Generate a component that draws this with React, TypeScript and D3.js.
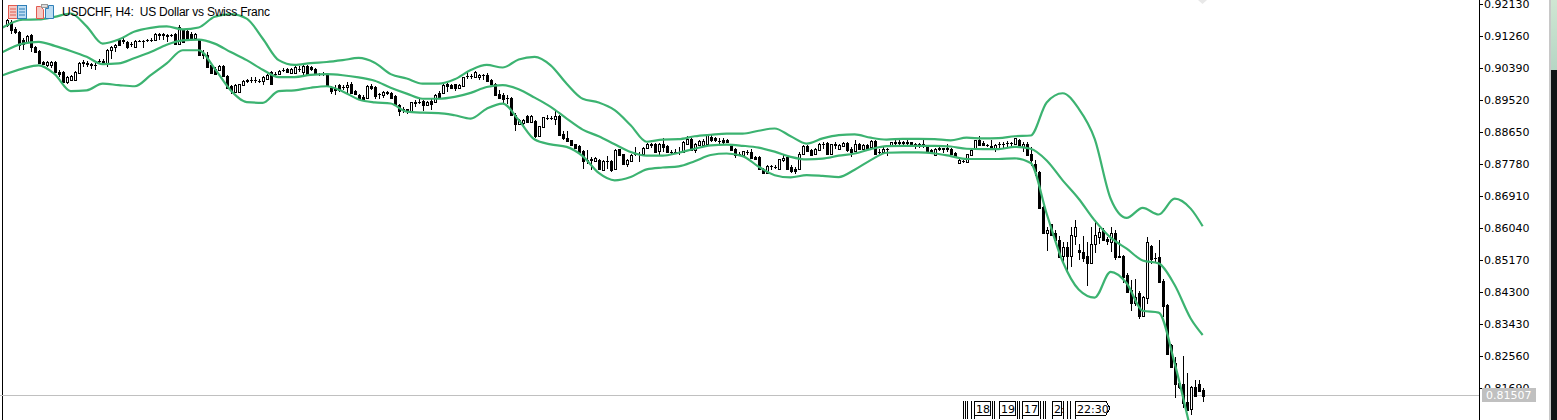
import React from 'react';
import * as d3 from 'd3';

// prices in 1/10000 of a franc, one entry per H4 candle
const opens = [
  9156,9165,9147,9138,9115,9111,9129,9097,9086,9056,
  9047,9047,9056,9029,9029,9002,9006,9006,9026,9056,
  9053,9050,9048,9058,9060,9052,9088,9097,9115,9113,
  9111,9106,9097,9112,9112,9115,9117,9115,9131,9131,
  9129,9129,9133,9106,9142,9141,9133,9120,9115,9081,
  9074,9047,9038,9033,9044,9017,8990,8975,8975,8993,
  9006,9007,9007,9005,9004,9011,9029,9023,9023,9035,
  9038,9026,9026,9038,9029,9045,9042,9038,9023,9024,
  9023,8986,8986,8993,8988,8988,8997,8977,8966,8961,
  8958,8990,8988,8970,8967,8974,8972,8963,8938,8927,
  8927,8922,8946,8948,8949,8938,8950,8947,8972,8972,
  8997,8994,8995,8986,8991,9019,9019,9015,9014,9020,
  9020,9006,8997,8970,8967,8959,8959,8913,8887,8890,
  8909,8893,8896,8854,8879,8904,8904,8900,8909,8859,
  8848,8843,8832,8828,8814,8789,8791,8787,8789,8763,
  8787,8787,8766,8818,8805,8778,8787,8807,8807,8807,
  8823,8832,8834,8813,8834,8827,8811,8811,8811,8811,
  8834,8846,8816,8831,8831,8832,8852,8850,8842,8845,
  8845,8828,8820,8805,8802,8812,8811,8798,8798,8766,
  8754,8774,8771,8766,8789,8798,8769,8766,8766,8805,
  8828,8816,8805,8816,8834,8836,8807,8832,8819,8828,
  8836,8820,8814,8834,8819,8830,8825,8841,8811,8811,
  8819,8828,8837,8837,8837,8837,8837,8834,8834,8834,
  8825,8816,8802,8821,8821,8821,8820,8809,8782,8787,
  8784,8802,8820,8843,8836,8830,8828,8820,8834,8834,
  8836,8836,8834,8845,8825,8834,8805,8779,8758,8661,
  8591,8616,8591,8572,8529,8553,8528,8582,8544,8540,
  8528,8508,8562,8581,8599,8574,8567,8592,8527,8528,
  8476,8436,8401,8428,8366,8413,8555,8524,8526,8460,
  8395,8286,8236,8182,8180,8132,8112,8171,8180,8163,
];
const closes = [
  9170,9142,9138,9102,9106,9126,9097,9083,9052,9050,
  9056,9056,9029,9023,9002,9015,9017,9029,9053,9052,
  9051,9049,9047,9059,9057,9090,9097,9102,9102,9115,
  9097,9105,9113,9113,9113,9115,9117,9133,9130,9130,
  9128,9129,9104,9150,9111,9117,9122,9133,9076,9074,
  9043,9026,9024,9044,9017,8986,8981,8993,8995,9004,
  9003,9006,9006,9004,9015,9020,8997,9022,9032,9035,
  9029,9038,9043,9038,9045,9020,9038,9024,9022,9023,
  8993,8977,8979,8981,8988,8994,8973,8970,8959,8955,
  8990,8984,8963,8970,8975,8973,8959,8938,8923,8926,
  8926,8946,8945,8947,8938,8947,8943,8967,8959,8993,
  8990,8986,8984,8993,9014,9018,9018,9028,9020,9020,
  9004,8995,8966,8959,8956,8958,8913,8887,8897,8899,
  8893,8909,8854,8881,8905,8903,8903,8908,8856,8850,
  8841,8829,8823,8811,8787,8788,8790,8796,8764,8786,
  8786,8763,8816,8802,8778,8789,8804,8807,8806,8823,
  8834,8831,8811,8834,8825,8811,8810,8810,8810,8839,
  8846,8816,8832,8841,8841,8857,8843,8843,8841,8837,
  8837,8816,8802,8804,8813,8811,8795,8791,8766,8754,
  8773,8773,8770,8791,8796,8766,8760,8760,8807,8828,
  8814,8804,8820,8834,8833,8807,8832,8831,8830,8836,
  8816,8811,8832,8818,8830,8820,8841,8807,8811,8820,
  8819,8837,8836,8836,8836,8836,8828,8828,8828,8828,
  8811,8810,8820,8820,8820,8820,8807,8798,8789,8787,
  8805,8816,8843,8831,8830,8829,8820,8830,8833,8833,
  8835,8835,8848,8827,8834,8802,8788,8759,8660,8591,
  8598,8584,8572,8525,8553,8528,8585,8608,8538,8524,
  8510,8562,8585,8594,8573,8569,8590,8526,8526,8470,
  8429,8401,8416,8366,8416,8565,8520,8523,8456,8392,
  8261,8227,8180,8172,8127,8109,8171,8147,8161,8148,
];
const highs = [
  9174,9170,9151,9140,9120,9129,9131,9099,9088,9058,
  9058,9058,9058,9033,9032,9018,9020,9031,9055,9061,
  9058,9054,9052,9063,9065,9092,9099,9106,9118,9120,
  9113,9111,9115,9115,9117,9119,9122,9135,9136,9136,
  9133,9131,9135,9156,9146,9144,9138,9136,9118,9088,
  9083,9049,9043,9047,9047,9020,8993,8997,8997,9006,
  9010,9014,9014,9009,9017,9022,9031,9029,9034,9041,
  9041,9040,9045,9044,9047,9048,9045,9040,9026,9030,
  9025,8990,8993,8995,8993,9002,9002,8981,8970,8965,
  8993,8995,8990,8973,8977,8978,8975,8965,8942,8934,
  8929,8948,8952,8956,8952,8950,8954,8969,8976,8995,
  8999,8997,8997,8995,9016,9029,9023,9031,9023,9023,
  9026,9009,9000,8979,8972,8966,8961,8916,8900,8902,
  8912,8912,8898,8883,8907,8911,8909,8925,8911,8868,
  8868,8845,8834,8830,8816,8816,8798,8798,8791,8788,
  8800,8789,8818,8820,8807,8793,8806,8825,8810,8825,
  8836,8836,8836,8836,8850,8829,8816,8818,8825,8841,
  8854,8848,8835,8843,8847,8861,8861,8852,8848,8848,
  8847,8830,8823,8811,8815,8816,8818,8800,8800,8768,
  8775,8777,8775,8793,8802,8800,8775,8771,8811,8830,
  8830,8818,8822,8836,8838,8838,8834,8839,8832,8838,
  8838,8824,8845,8836,8832,8832,8843,8843,8820,8824,
  8822,8839,8843,8843,8842,8843,8839,8836,8836,8843,
  8827,8818,8822,8825,8823,8834,8823,8811,8791,8790,
  8807,8818,8845,8854,8840,8834,8843,8832,8839,8838,
  8841,8839,8850,8847,8838,8838,8826,8788,8760,8664,
  8607,8616,8598,8583,8567,8567,8608,8626,8561,8582,
  8567,8608,8626,8603,8604,8581,8608,8599,8572,8530,
  8481,8463,8465,8433,8418,8581,8558,8535,8573,8465,
  8397,8288,8254,8184,8256,8211,8175,8192,8192,8168,
];
const lows = [
  9151,9133,9131,9090,9090,9108,9083,9082,9050,9048,
  9043,9041,9027,9014,8999,8997,9003,9006,9024,9043,
  9043,9038,9035,9052,9050,9043,9063,9083,9100,9106,
  9092,9097,9095,9110,9095,9110,9110,9113,9117,9115,
  9111,9124,9102,9104,9109,9113,9115,9115,9074,9065,
  9040,9024,9020,9031,9015,8984,8970,8973,8973,8990,
  8998,9000,9000,9000,8993,9008,8993,9015,9020,9029,
  9027,9024,9022,9029,9015,9018,9032,9022,9018,9018,
  8990,8970,8966,8975,8981,8968,8970,8966,8955,8952,
  8955,8980,8955,8955,8957,8966,8957,8936,8909,8916,
  8914,8920,8934,8941,8923,8936,8925,8945,8955,8970,
  8975,8984,8977,8984,8989,9011,9011,9013,9008,9006,
  9002,8993,8964,8957,8945,8943,8911,8868,8884,8885,
  8890,8890,8850,8852,8877,8897,8897,8884,8854,8843,
  8839,8827,8820,8809,8766,8778,8762,8785,8762,8761,
  8766,8757,8764,8799,8775,8770,8785,8800,8784,8805,
  8821,8823,8809,8799,8810,8809,8806,8806,8802,8809,
  8830,8814,8808,8829,8828,8830,8839,8837,8834,8834,
  8835,8814,8796,8800,8797,8802,8793,8788,8764,8752,
  8752,8762,8766,8764,8785,8764,8754,8752,8764,8803,
  8812,8802,8803,8814,8820,8805,8805,8820,8817,8826,
  8811,8798,8812,8816,8817,8818,8822,8805,8807,8809,
  8800,8826,8830,8830,8830,8825,8826,8818,8822,8822,
  8809,8805,8800,8814,8809,8811,8804,8796,8780,8781,
  8780,8800,8818,8829,8828,8825,8818,8811,8816,8818,
  8825,8826,8832,8825,8811,8800,8772,8745,8658,8589,
  8543,8582,8570,8523,8508,8485,8499,8558,8517,8513,
  8446,8508,8535,8562,8571,8558,8540,8517,8522,8454,
  8427,8379,8392,8357,8364,8397,8505,8513,8454,8363,
  8259,8225,8141,8165,8114,8107,8095,8145,8159,8132,
];

// Bollinger bands, read just left of the first candle, then at every 4th candle, then at the last one
const bandUpper = [
  9150,9171,9172,9179,9188,9153,9106,9117,9139,9149,9153,9145,9150,9179,9186,9174,9120,9061,9048,9053,9056,
  9061,9067,9054,9023,9011,8997,8997,9009,9034,9048,9041,9063,9070,9047,8997,8956,8946,8925,8884,8839,8845,8846,
  8854,8858,8861,8861,8869,8875,8854,8834,8848,8857,8859,8850,8845,8847,8847,8846,8843,8850,8848,8849,8854,
  8856,8946,8971,8929,8847,8684,8632,8659,8641,8684,8657,8609,
];
const bandMiddle = [
  9083,9106,9111,9100,9086,9070,9050,9052,9067,9083,9103,9115,9117,9106,9083,9061,9035,9015,9015,9021,9023,
  9020,9014,9005,8986,8970,8956,8956,8961,8972,8988,8993,8982,8959,8934,8902,8872,8854,8832,8811,8801,8801,8809,
  8820,8829,8831,8828,8823,8812,8798,8791,8793,8801,8807,8819,8827,8828,8828,8828,8826,8820,8819,8819,8825,
  8820,8788,8734,8684,8625,8578,8548,8516,8508,8449,8358,8313,
];
const bandLower = [
  9020,9038,9047,9023,8977,8979,8997,8993,8990,9020,9052,9088,9088,9038,8979,8947,8945,8977,8979,8986,8990,
  8976,8954,8946,8943,8921,8918,8917,8911,8902,8929,8943,8898,8845,8832,8825,8800,8754,8734,8743,8764,8769,8772,
  8786,8803,8807,8800,8771,8748,8742,8748,8746,8743,8763,8789,8809,8810,8810,8807,8800,8792,8792,8792,8794,
  8781,8643,8513,8437,8415,8485,8454,8379,8374,8236,8056,7928,
];

const priceTicks = [0.9213,0.9126,0.9039,0.8952,0.8865,0.8778,0.8691,0.8604,0.8517,0.843,0.8343,0.8256,0.8169];
const lastPrice = 0.81507;

// time tags stuck at the bottom of the chart, with the candle each one sits on
const tagLabels = ['','','','','18','','','19','','','17','','','','2:','','','','22:30'];
const tagCandles = [239,239.7,240.1,241,241.8,246.3,246.9,248.1,252.5,253.2,253.9,258.3,259,259.6,261.3,264.2,265,265.9,267.1];

const title = 'USDCHF, H4:  US Dollar vs Swiss Franc';
const WIDTH = 1557;
const HEIGHT = 420;
const AXIS_X = 1479;
const BAND_COLOR = '#3cb371';

const xScale = d3.scaleLinear().domain([0, 299]).range([6.67, 1202.67]);
const yScale = d3.scaleLinear().domain([0.9213, 0.8256]).range([4.3, 356]);
const py = (v: number) => yScale(v / 10000);

const bandIndex = [-1, ...d3.range(4, 299, 4), 299];
const bandLine = d3.line<number>()
  .x((_, i) => xScale(bandIndex[i]))
  .y(d => py(d))
  .curve(d3.curveMonotoneX);

function Candle({ i }: { i: number }) {
  const x = Math.round(xScale(i));
  const o = Math.round(py(opens[i]));
  const c = Math.round(py(closes[i]));
  const top = Math.min(o, c);
  const h = Math.max(o, c) - top;
  const up = closes[i] > opens[i];
  return (
    <g shapeRendering="crispEdges">
      <rect x={x} y={Math.round(py(highs[i]))} width={1} height={Math.max(1, Math.round(py(lows[i])) - Math.round(py(highs[i])))} fill="#000" />
      {h === 0 ? (
        <rect x={x - 1} y={top} width={3} height={1} fill="#000" />
      ) : up ? (
        <rect x={x - 0.5} y={top + 0.5} width={2} height={h} fill="#fff" stroke="#000" />
      ) : (
        <rect x={x - 1} y={top} width={3} height={h + 1} fill="#000" />
      )}
    </g>
  );
}

function Icons() {
  return (
    <g>
      <rect x={8.5} y={5.5} width={9} height={13} fill="#f6c9c4" stroke="#e25b50" />
      <rect x={17.5} y={5.5} width={9} height={13} fill="#bcdcf2" stroke="#2f7fb8" />
      <path d="M10 9h6M10 12h6M10 15h6" stroke="#e25b50" />
      <path d="M19 9h6M19 12h6M19 15h6" stroke="#2f7fb8" />
      <path d="M36.5 6.5h4l3 3v9h-7z" fill="#f6c9c4" stroke="#e25b50" />
      <path d="M45.5 8.5h3v-3h5v13h-8z" fill="#bcdcf2" stroke="#2f7fb8" />
      <rect x={41.5} y={4.5} width={6} height={3} fill="#ddd" stroke="#999" />
    </g>
  );
}

export default function App() {
  const axisFont = '"DejaVu Sans", sans-serif';
  return (
    <svg width={WIDTH} height={HEIGHT} style={{ position: 'fixed', left: 0, top: 0, background: '#fff' }}>
      <defs>
        <clipPath id="plot"><rect x={3} y={0} width={AXIS_X - 3} height={HEIGHT} /></clipPath>
        <linearGradient id="sky" x1="0" y1="0" x2="0" y2="1">
          <stop offset="0" stopColor="#cfe6d2" />
          <stop offset="1" stopColor="#b5d6c4" />
        </linearGradient>
      </defs>

      {/* sliver of the desktop behind the terminal window */}
      <rect x={1549} y={0} width={2} height={HEIGHT} fill="#c8c8c8" />
      <rect x={1551} y={0} width={6} height={70} fill="url(#sky)" />
      <rect x={1551} y={70} width={6} height={350} fill="#101416" />

      <rect x={2} y={0} width={1} height={HEIGHT} fill="#000" />
      <rect x={AXIS_X} y={0} width={1} height={HEIGHT} fill="#000" />

      {priceTicks.map(t => (
        <g key={t}>
          <rect x={AXIS_X + 1} y={Math.round(yScale(t))} width={3} height={1} fill="#000" />
          <text x={1484} y={yScale(t) + 4} fontFamily={axisFont} fontSize={11} fill="#000">{t.toFixed(5)}</text>
        </g>
      ))}

      <rect x={0} y={Math.round(yScale(lastPrice))} width={AXIS_X} height={1} fill="#c0c0c0" />

      <g clipPath="url(#plot)">
        {opens.map((_, i) => <Candle key={i} i={i} />)}
        {[bandUpper, bandMiddle, bandLower].map((b, i) => (
          <path key={i} d={bandLine(b) as string} fill="none" stroke={BAND_COLOR} strokeWidth={2.2} />
        ))}
      </g>

      <rect x={1482} y={388} width={54} height={14} fill="#c0c0c0" />
      <text x={1486} y={399} fontFamily={axisFont} fontSize={11} fill="#fff">{lastPrice.toFixed(5)}</text>

      <Icons />
      <text x={62} y={16} fontFamily='"Liberation Sans", sans-serif' fontSize={12} fill="#000" xmlSpace="preserve" textLength={208}>{title}</text>

      <g shapeRendering="crispEdges">
        {tagLabels.map((label, i) => {
          const x = Math.round(xScale(tagCandles[i]));
          const next = i < tagLabels.length - 1 ? Math.round(xScale(tagCandles[i + 1])) : x + 33;
          const w = next - x - (label ? 2 : 0);
          return (
            <g key={i}>
              <rect x={x} y={401} width={1} height={18} fill="#000" />
              {label ? (
                <g>
                  <path
                    d={i === tagLabels.length - 1
                      ? `M${x + 0.5} 401.5H${x + w}l4 6.5l-4 7H${x + 0.5}z`
                      : `M${x + 0.5} 401.5H${x + w + 0.5}V415.5H${x + 0.5}z`}
                    fill="#fff" stroke="#000" />
                  <text x={x + 2} y={413} fontFamily={axisFont} fontSize={11} fill="#000">{label}</text>
                </g>
              ) : null}
            </g>
          );
        })}
      </g>
      {/* scrap of the shift marker at the top of the chart */}
      <path d="M1198 0h9l-4.5 4z" fill="#e8e8e8" />
    </svg>
  );
}
